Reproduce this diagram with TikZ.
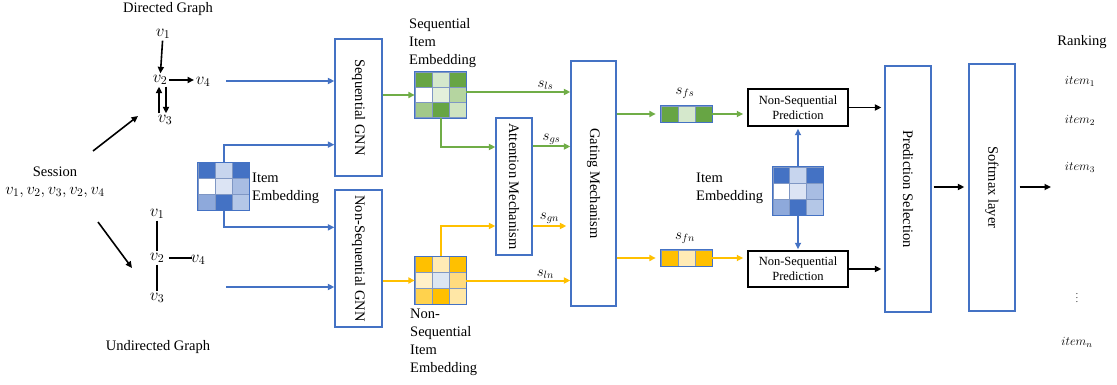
\documentclass[tikz,border=0pt]{standalone}
\RequirePackage{fix-cm}
\usepackage{fontspec}
\setmainfont{Liberation Serif}
\usetikzlibrary{arrows.meta,calc}
\definecolor{bl}{HTML}{4472C4}
\definecolor{gr}{HTML}{70AD47}
\definecolor{yl}{HTML}{FFC000}
\definecolor{gridc}{HTML}{7F97C4}
\definecolor{bD}{HTML}{4472C4}
\definecolor{bL}{HTML}{C7D5EE}
\definecolor{bVL}{HTML}{DCE4F4}
\definecolor{bML}{HTML}{A8BDE3}
\definecolor{bM}{HTML}{8EA9DB}
\definecolor{bLL}{HTML}{B4C7E7}
\definecolor{gD}{HTML}{67A544}
\definecolor{gL}{HTML}{D5E8CC}
\definecolor{gVL}{HTML}{E3EFDB}
\definecolor{gML}{HTML}{B5D5A0}
\definecolor{gM}{HTML}{A2C98A}
\definecolor{gLL}{HTML}{CFE4C1}
\definecolor{yD}{HTML}{FFC000}
\definecolor{yL}{HTML}{FFEBB5}
\definecolor{yVL}{HTML}{DCE6F2}
\definecolor{yML}{HTML}{FFDB7F}
\definecolor{yLM}{HTML}{FFF0C9}
\definecolor{yM}{HTML}{FFD24D}
\definecolor{yLL}{HTML}{FFE7A6}
\newcommand\embmat[6]{%
  \node[inner sep=0pt, minimum width=3*#3, minimum height=3*#4] (#1) at #2 {};
  \foreach \cc [count=\k from 0] in {#5} {
    \pgfmathtruncatemacro\rr{int(\k/3)}
    \pgfmathtruncatemacro\ccol{mod(\k,3)}
    \filldraw[fill=\cc, draw=gridc, line width=0.5pt] ($(#1.north west)+(\ccol*#3,\rr*#4)$) rectangle ++(#3,#4);
  }
  \draw[#6, line width=0.9pt] (#1.north west) rectangle (#1.south east);
}
\newcommand\embvector[4]{%
  \node[inner sep=0pt, minimum width=51pt, minimum height=16pt] (#1) at #2 {};
  \foreach \cc [count=\k from 0] in {#3} {
    \filldraw[fill=\cc, draw=gridc, line width=0.5pt] ($(#1.north west)+(\k*17,0)$) rectangle ++(17,16);
  }
  \draw[#4, line width=0.9pt] (#1.north west) rectangle (#1.south east);
}
\begin{document}
\begin{tikzpicture}[x=1pt,y=-1pt,
  every node/.style={font=\fontsize{14.5}{18}\selectfont, inner sep=2pt},
  vnode/.style={font=\fontsize{17}{19}\selectfont, inner sep=1.5pt},
  bluebox/.style={draw=bl, line width=1.3pt, inner sep=0pt},
  blackbox/.style={draw=black, line width=1.5pt, inner sep=0pt, align=center, font=\fontsize{12.5}{15}\selectfont},
  tip/.style={-{Triangle[length=6.5pt,width=6pt]}},
  barrow/.style={tip, black, line width=1.6pt},
  bline/.style={black, line width=1.3pt},
  bluearrow/.style={tip, bl, line width=2pt},
  greenarrow/.style={tip, gr, line width=2pt},
  yellowarrow/.style={tip, yl, line width=2pt},
  lbl/.style={font=\fontsize{15}{17}\selectfont, inner sep=1pt, text=black},
  itm/.style={font=\fontsize{12.5}{15}\selectfont}
]
\useasboundingbox (0,0) rectangle (1117,385);

% Directed graph
\node (dtitle) at (168,9) {Directed Graph};
\node[vnode] (dv1) at (163,34) {$v_1$};
\node[vnode] (dv2) at (160,80) {$v_2$};
\node[vnode] (dv4) at (203,82) {$v_4$};
\node[vnode] (dv3) at (165,120) {$v_3$};
\draw[barrow] (dv1) -- (dv2);
\draw[barrow] (dv2.east) -- (dv2.east -| dv4.west);
\draw[barrow] ([xshift=-6pt]dv3.north) -- ([xshift=-6pt]dv3.north |- dv2.south);
\draw[barrow] ([xshift=1pt]dv3.north |- dv2.south) -- ([xshift=1pt]dv3.north);

% Session
\node[align=center] (session) at (55,182) {Session\\\fontsize{16.5}{19}\selectfont$v_1,v_2,v_3,v_2,v_4$};
\coordinate (s2dA) at (93,151);
\coordinate (s2dB) at (138,116);
\coordinate (s2uA) at (98,222);
\coordinate (s2uB) at (132,268);
\draw[barrow] (s2dA) -- (s2dB);
\draw[barrow] (s2uA) -- (s2uB);

% Undirected graph
\node[vnode] (uv1) at (157,214) {$v_1$};
\node[vnode] (uv2) at (157,258) {$v_2$};
\node[vnode] (uv4) at (198,260) {$v_4$};
\node[vnode] (uv3) at (157,298) {$v_3$};
\draw[bline] (uv1) -- (uv2);
\draw[bline] (uv2) -- (uv3);
\draw[bline] ([xshift=3pt]uv2.east) -- ([xshift=3pt]uv2.east -| uv4.west);
\node (utitle) at (158,347) {Undirected Graph};

% GNN boxes
\node[bluebox, minimum width=47pt, minimum height=137pt] (sgnn) at (358.5,107.5) {};
\node[rotate=-90] (sgnnt) at (sgnn.center) {Sequential GNN};
\node[bluebox, minimum width=47pt, minimum height=137pt] (nsgnn) at (358.5,258.5) {};
\node[rotate=-90] (nsgnnt) at (nsgnn.center) {Non-Sequential GNN};

\coordinate (dgout) at (226,81);
\coordinate (ugout) at (226,287);
\draw[bluearrow] (dgout) -- (dgout -| sgnn.west);
\draw[bluearrow] (ugout) -- (ugout -| nsgnn.west);

% Item embedding 1
\embmat{emb1}{(223.5,186.5)}{17}{15.7}{bD,bL,bD,white,bVL,bML,bM,bD,bLL}{bl}
\node[align=left, anchor=west] (emb1t) at (250,188) {Item\\Embedding};
\draw[bluearrow] (emb1.north) |- ([yshift=32pt]sgnn.south west);
\draw[bluearrow] (emb1.south) |- ([yshift=-38pt]nsgnn.north west);

% Green matrix
\embmat{gm}{(440.5,95)}{17}{15.3}{gD,gL,gD,white,gVL,gML,gM,gD,gLL}{bl}
\node[align=left, anchor=north west] (gmt) at (407,16) {Sequential\\Item\\Embedding};
\draw[greenarrow] (sgnn.east |- gm.west) -- (gm.west);

% Yellow matrix
\embmat{ym}{(440.5,280.5)}{17}{16}{yD,yL,yD,yLM,yVL,yML,yM,yD,yLL}{bl}
\node[align=left, anchor=north west] (ymt) at (408,307) {Non-\\Sequential\\Item\\Embedding};
\draw[yellowarrow] (nsgnn.east |- ym.west) -- (ym.west);

% Attention and gating
\node[bluebox, minimum width=36pt, minimum height=137pt] (attn) at (514,186.5) {};
\node[rotate=-90] (attnt) at (attn.center) {Attention Mechanism};
\node[bluebox, minimum width=45pt, minimum height=245pt] (gate) at (593.5,183.5) {};
\node[rotate=-90] (gatet) at (gate.center) {Gating Mechanism};

\draw[greenarrow] ([yshift=3pt]gm.east) -- ([yshift=3pt]gm.east -| gate.west) node[pos=0.76, above, lbl] {$s_{ls}$};
\draw[greenarrow] (gm.south) |- ([yshift=39.5pt]attn.west);
\draw[greenarrow] ([yshift=40pt]attn.east) -- ([yshift=40pt]attn.east -| gate.west) node[midway, above, lbl] {$s_{gs}$};
\draw[yellowarrow] (ym.north) |- ([yshift=-39.5pt]attn.west);
\draw[yellowarrow] ([yshift=-39.5pt]attn.east) -- ([yshift=-39.5pt,xshift=-4pt]attn.east -| gate.west) node[midway, above, lbl] {$s_{gn}$};
\draw[yellowarrow] (ym.east) -- (ym.east -| gate.west) node[pos=0.76, above, lbl] {$s_{ln}$};

% Final vectors
\embvector{sfs}{(686.5,114)}{gD,gL,gD}{bl}
\node[lbl] (sfst) at (685,93) {$s_{fs}$};
\embvector{sfn}{(686.5,258)}{yD,yL,yD}{bl}
\node[lbl] (sfnt) at (685,238) {$s_{fn}$};
\draw[greenarrow, shorten >=5pt] (gate.east |- sfs.west) -- (sfs.west);
\draw[yellowarrow, shorten >=5pt] (gate.east |- sfn.west) -- (sfn.west);

% Prediction boxes
\node[blackbox, minimum width=100pt, minimum height=37pt] (pred1) at (798,107.5) {Non-Sequential\\Prediction};
\node[blackbox, minimum width=100pt, minimum height=36pt] (pred2) at (798,269) {Non-Sequential\\Prediction};
\draw[greenarrow, shorten >=4pt] (sfs.east) -- (sfs.east -| pred1.west);
\draw[yellowarrow, shorten >=4pt] (sfn.east) -- (sfn.east -| pred2.west);

% Item embedding 2
\embmat{emb2}{(798,191)}{16.7}{16}{bD,bL,bD,white,bVL,bML,bM,bD,bLL}{bl}
\node[align=left, anchor=west] (emb2t) at (694,188) {Item\\Embedding};
\draw[bluearrow, shorten >=2pt] (emb2.north) -- (pred1.south);
\draw[bluearrow, shorten >=1pt] (emb2.south) -- (pred2.north);

% Selection and softmax
\node[bluebox, minimum width=46pt, minimum height=246pt] (psel) at (908,189) {};
\node[rotate=-90] (pselt) at (psel.center) {Prediction Selection};
\node[bluebox, minimum width=46pt, minimum height=247pt] (smax) at (992,187.5) {};
\node[rotate=-90] (smaxt) at (smax.center) {Softmax layer};
\draw[barrow, shorten >=3pt] (pred1.east) -- (pred1.east -| psel.west);
\draw[barrow, shorten >=3pt] (pred2.east) -- (pred2.east -| psel.west);
\coordinate (outend) at (1051,187);
\draw[barrow, shorten <=2pt, shorten >=4pt] (psel.east |- outend) -- (smax.west |- outend);
\draw[barrow, shorten <=4pt] (smax.east |- outend) -- (outend);

% Ranking
\node (rank) at (1082,42) {Ranking};
\node[itm] (it1) at (1080,81) {$item_1$};
\node[itm] (it2) at (1080,120) {$item_2$};
\node[itm] (it3) at (1080,167) {$item_3$};
\node[font=\fontsize{9}{10}\selectfont] (itd) at (1077,295) {$\vdots$};
\node[itm] (itn) at (1077,342) {$item_n$};
\end{tikzpicture}
\end{document}
